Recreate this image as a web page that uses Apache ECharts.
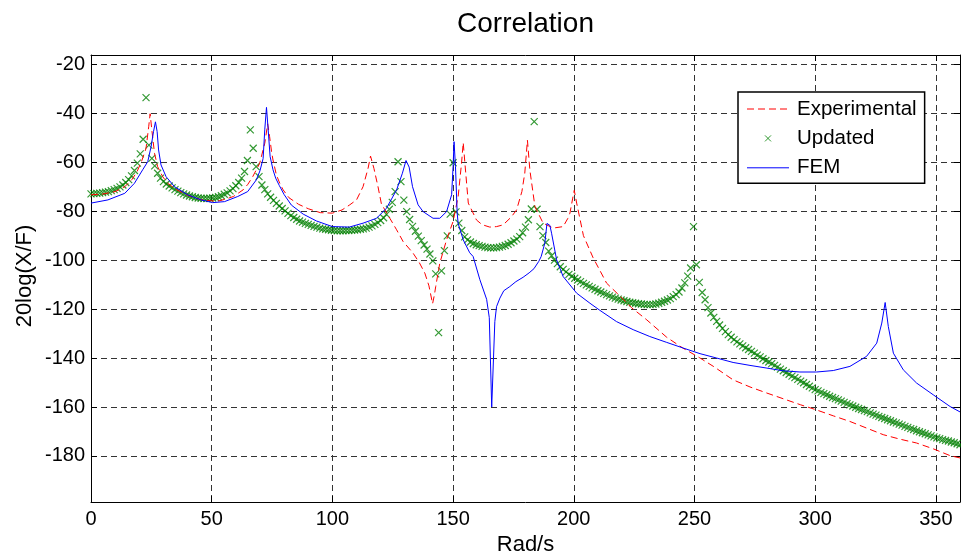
<!DOCTYPE html>
<html>
<head>
<meta charset="utf-8">
<title>Correlation</title>
<script src="https://cdn.jsdelivr.net/npm/echarts@6/dist/echarts.min.js"></script>
<style>
	html, body { margin: 0; padding: 0; background: #fff; }
	#chart { width: 961px; height: 559px; }
</style>
</head>
<body>
<div id="chart"></div>
<script>
// tick positions
const xTicks = [ 0, 50, 100, 150, 200, 250, 300, 350 ];
const yTicks = [ -180, -160, -140, -120, -100, -80, -60, -40, -20 ];

// Experimental (red dashed)
const expX = [ 0, 5, 10, 14, 17, 19, 21, 22.8, 23.9, 24.5, 25.2, 26.3, 27.6, 29.7, 31.8, 35, 40, 45, 50, 53,
	56, 59, 63, 65, 67, 69.9, 72, 73.2, 74, 74.8, 75.4, 76.8, 78.2, 79.6, 82, 86, 90, 95, 100, 104,
	107.2, 110, 112.7, 114.8, 115.8, 117.2, 118.9, 120.3, 123.8, 126.6, 129.3, 133.4, 136, 138.3, 140, 141.5, 142.3, 142.8, 144.5, 147.3,
	150, 152.1, 153.5, 154.2, 154.9, 156.3, 159.7, 162, 165.2, 168, 170.7, 174, 176.3, 178.5, 179.7, 180.8, 181.8, 183.9, 187.3, 191.5,
	195.6, 197.5, 198.4, 199.5, 200.2, 201.2, 204, 208, 213.6, 220, 224, 230, 238.5, 245, 252, 258, 266, 273, 280, 287,
	294, 300, 307.5, 314.4, 321.3, 328.2, 335, 342, 349, 356, 360 ];
const expDb = [ -73.3, -73.0, -72.0, -70.0, -67.0, -64.0, -59.5, -54.3, -45.5, -40.2, -46.8, -56.3, -61.8, -65.9, -68.6, -71.0, -73.5, -75.2, -75.8, -75.8,
	-75.0, -74.0, -71.3, -69.0, -65.9, -60.4, -52.2, -44.3, -49.6, -55.7, -59.1, -65.2, -68.6, -71.3, -74.5, -77.2, -79.0, -80.6, -80.8, -79.5,
	-77.4, -75.4, -70.0, -62.4, -57.5, -62.5, -70.0, -77.0, -82.9, -87.6, -92.4, -97.1, -101.0, -105.3, -110.5, -117.8, -114.0, -110.8, -101.2, -91.7,
	-84.2, -74.0, -60.4, -52.0, -60.4, -76.7, -83.6, -85.5, -86.5, -86.3, -85.6, -82.5, -79.5, -72.0, -64.5, -51.0, -63.1, -78.1, -84.9, -86.9,
	-86.3, -83.0, -80.8, -75.0, -71.5, -76.7, -90.0, -99.0, -109.4, -115.5, -119.5, -124.2, -131.5, -135.8, -139.8, -143.5, -148.9, -151.8, -154.3, -156.7,
	-159.1, -161.0, -163.6, -165.9, -168.6, -171.3, -173.1, -174.7, -177.1, -179.9, -180.8 ];

// Updated (green x markers), sampled every 1.2 rad/s from 0 to 360
const updatedStep = 1.2;
const updatedDb = [
	-72.9, -72.8, -72.7, -72.6, -72.4, -72.2, -72.0, -71.6, -71.2, -70.7,
	-70.1, -69.3, -68.3, -67.1, -65.6, -63.4, -60.4, -56.6, -50.6, -33.6,
	-53.0, -58.4, -61.5, -64.5, -66.5, -67.9, -68.9, -69.7, -70.5, -71.2,
	-71.8, -72.4, -72.9, -73.4, -73.8, -74.1, -74.4, -74.6, -74.7, -74.8,
	-74.8, -74.7, -74.6, -74.4, -74.1, -73.7, -73.1, -72.5, -71.7, -70.8,
	-69.6, -68.3, -66.5, -63.8, -59.3, -46.8, -54.3, -61.8, -65.9, -69.3,
	-71.2, -72.9, -74.3, -75.6, -76.8, -77.9, -78.9, -79.9, -80.9, -81.8,
	-82.6, -83.3, -84.0, -84.5, -85.0, -85.4, -85.8, -86.2, -86.5, -86.9,
	-87.2, -87.4, -87.6, -87.8, -87.9, -88.0, -88.0, -88.0, -87.9, -87.9,
	-87.8, -87.7, -87.6, -87.4, -87.2, -86.9, -86.5, -86.0, -85.4, -84.7,
	-83.8, -82.7, -81.3, -79.2, -76.4, -72.0, -59.8, -67.9, -75.5, -80.2,
	-83.4, -86.2, -88.2, -90.2, -92.0, -93.8, -95.5, -97.5, -100.3, -105.6,
	-129.6, -104.4, -96.1, -90.1, -81.2, -60.2, -80.3, -84.9, -87.9, -90.5,
	-91.7, -92.6, -93.2, -93.7, -94.1, -94.4, -94.7, -94.9, -95.0, -95.0,
	-94.9, -94.7, -94.4, -94.0, -93.5, -92.9, -92.2, -91.4, -90.4, -88.8,
	-86.5, -83.5, -79.1, -43.4, -79.2, -86.3, -90.0, -92.8, -96.3, -98.2,
	-100.0, -101.4, -102.7, -103.8, -104.8, -105.8, -106.6, -107.4, -108.1, -108.8,
	-109.5, -110.1, -110.7, -111.3, -111.9, -112.5, -113.0, -113.6, -114.1, -114.6,
	-115.1, -115.5, -115.9, -116.3, -116.6, -116.9, -117.2, -117.4, -117.6, -117.8,
	-117.9, -118.1, -118.2, -118.2, -118.1, -117.9, -117.6, -117.2, -116.8, -116.3,
	-115.7, -114.9, -114.1, -113.0, -111.4, -109.3, -106.5, -103.2, -86.3, -101.9,
	-109.1, -113.2, -116.2, -119.4, -121.6, -123.4, -125.0, -126.5, -127.9, -129.2,
	-130.4, -131.5, -132.5, -133.4, -134.2, -135.0, -135.8, -136.5, -137.3, -138.0,
	-138.8, -139.5, -140.3, -141.0, -141.6, -142.3, -143.0, -143.7, -144.5, -145.2,
	-145.9, -146.6, -147.4, -148.0, -148.7, -149.4, -150.1, -150.8, -151.5, -152.2,
	-152.9, -153.4, -154.0, -154.5, -155.0, -155.6, -156.1, -156.6, -157.1, -157.6,
	-158.1, -158.6, -159.1, -159.6, -160.1, -160.6, -161.0, -161.5, -161.9, -162.4,
	-162.9, -163.3, -163.8, -164.3, -164.7, -165.2, -165.6, -166.1, -166.5, -167.0,
	-167.4, -167.9, -168.3, -168.8, -169.2, -169.7, -170.1, -170.5, -170.9, -171.4,
	-171.8, -172.2, -172.6, -172.9, -173.3, -173.6, -173.9, -174.3, -174.6, -175.0,
	-175.4 ];

// FEM (blue solid)
const femX = [ 0, 7, 14, 18, 21.4, 23.5, 24.9, 25.9, 26.7, 27.4, 28, 29, 31.1, 34.6, 40, 45.6, 50.4, 55.3, 60.8, 64.9,
	68.5, 70, 71.3, 72, 72.7, 73.4, 74.2, 75.4, 76.5, 78, 80, 83, 87.9, 93.4, 100, 107, 112.7, 118.3, 122.4, 126.6,
	129, 130.5, 131.8, 133.2, 135.5, 137.6, 141.7, 144.5, 147.3, 149.4, 150, 150.4, 151, 151.7, 152.1, 154.2, 156.9, 158.3, 161.1, 163.9,
	165, 166, 167.3, 168, 169.4, 171, 173.5, 176, 179, 181.5, 183.5, 185.5, 186.5, 188, 188.9, 190.1, 190.8, 192.9, 195.6, 201.2,
	206.7, 210.8, 217.7, 224.6, 231.5, 238.5, 245.3, 252.3, 259.2, 266, 273, 280, 286.8, 293.7, 300.6, 307.5, 314.4, 321.3, 325.5, 327.6,
	329, 330.3, 332.4, 336.5, 342, 348.9, 355.9, 360 ];
const femDb = [ -76.7, -75.4, -72.7, -68.6, -63.1, -59.8, -53.6, -47.5, -43.5, -47.5, -55.0, -61.1, -65.9, -70.0, -73.3, -75.4, -76.5, -76.1, -74.0, -72.0,
	-67.2, -63.5, -58.5, -46.5, -37.6, -46.8, -57.7, -63.1, -66.5, -69.5, -73.2, -77.5, -81.2, -84.0, -86.3, -86.5, -84.9, -82.9, -78.8, -71.3,
	-64.5, -59.3, -62.0, -70.0, -77.4, -80.2, -82.9, -82.9, -80.2, -73.3, -61.8, -51.6, -61.8, -80.8, -85.0, -91.7, -97.0, -98.5, -108.0, -116.0,
	-123.5, -160.0, -125.1, -119.0, -115.5, -112.5, -110.8, -108.8, -107.0, -105.2, -103.5, -100.5, -98.5, -93.1, -85.0, -85.8, -89.0, -99.9, -106.7, -113.5,
	-117.6, -120.5, -125.1, -128.4, -131.2, -133.6, -135.9, -138.2, -140.0, -141.8, -143.0, -144.1, -145.2, -145.7, -145.7, -145.1, -143.4, -139.3, -133.9, -125.7,
	-117.3, -127.1, -138.0, -144.8, -150.2, -155.0, -159.8, -162.0 ];

const FONT = '"Liberation Sans", Arial, sans-serif';

const pairs = ( xs, ys ) => xs.map( ( x, i ) => [ x, ys[ i ] ] );
const updatedData = updatedDb.map( ( y, i ) => [ +( i * updatedStep ).toFixed( 1 ), y ] );

const chart = echarts.init( document.getElementById( 'chart' ), null, { renderer: 'canvas' } );

const tickStyle = { show: true, inside: true, length: 6, lineStyle: { color: '#000', width: 1 } };
const lineAxis = { show: true, onZero: false, lineStyle: { color: '#000', width: 1 } };
const gridLine = { show: true, lineStyle: { color: '#333', width: 1, type: [ 6, 4 ] } };
// hides the dot that line series put in the middle of their legend icon
const noDot = { color: 'rgba(0,0,0,0)', borderColor: 'rgba(0,0,0,0)', borderWidth: 0 };

chart.setOption( {
	animation: false,
	backgroundColor: '#fff',
	grid: { left: 91, right: 1, top: 55, bottom: 57, containLabel: false },
	xAxis: [
		{
			type: 'value', min: 0, max: 360, position: 'bottom',
			axisLine: lineAxis,
			axisTick: Object.assign( {}, tickStyle, { customValues: xTicks } ),
			axisLabel: { customValues: xTicks, color: '#000', fontSize: 20, fontFamily: FONT, margin: 7 },
			splitLine: gridLine
		},
		{
			type: 'value', min: 0, max: 360, position: 'top',
			axisLine: lineAxis,
			axisTick: Object.assign( {}, tickStyle, { customValues: xTicks } ),
			axisLabel: { show: false },
			splitLine: { show: false }
		}
	],
	yAxis: [
		{
			type: 'value', min: -198.8, max: -16.2, position: 'left',
			axisLine: lineAxis,
			axisTick: Object.assign( {}, tickStyle, { customValues: yTicks } ),
			axisLabel: { customValues: yTicks, color: '#000', fontSize: 20, fontFamily: FONT, margin: 6 },
			splitLine: gridLine
		},
		{
			type: 'value', min: -198.8, max: -16.2, position: 'right',
			axisLine: lineAxis,
			axisTick: Object.assign( {}, tickStyle, { customValues: yTicks } ),
			axisLabel: { show: false },
			splitLine: { show: false }
		}
	],
	legend: {
		orient: 'vertical',
		left: 738,
		top: 92,
		padding: [ 6.5, 8, 5, 8.5 ],
		itemGap: 8.4,
		itemWidth: 42,
		itemHeight: 6,
		backgroundColor: '#fff',
		borderColor: '#000',
		borderWidth: 1.5,
		borderRadius: 0,
		selectedMode: false,
		textStyle: { color: '#000', fontSize: 20.5, fontFamily: FONT, lineHeight: 20, padding: [ 0, 0, 0, 3 ] },
		data: [
			{ name: 'Experimental', itemStyle: noDot, lineStyle: { color: '#ff0000', width: 1, type: [ 7, 4 ] } },
			{ name: 'Updated', itemStyle: { color: '#007f00', borderColor: '#007f00', borderWidth: 1 } },
			{ name: 'FEM', itemStyle: noDot, lineStyle: { color: '#0000ff', width: 1, type: 'solid' } }
		]
	},
	graphic: [
		{ type: 'text', x: 525.5, y: 24.5, silent: true,
			style: { text: 'Correlation', fill: '#000', font: '28px ' + FONT, align: 'center', verticalAlign: 'middle' } },
		{ type: 'text', x: 525.5, y: 545, silent: true,
			style: { text: 'Rad/s', fill: '#000', font: '22px ' + FONT, align: 'center', verticalAlign: 'middle' } },
		{ type: 'text', x: 25, y: 276, rotation: Math.PI / 2, silent: true,
			style: { text: '20log(X/F)', fill: '#000', font: '22px ' + FONT, align: 'center', verticalAlign: 'middle' } }
	],
	series: [
		{
			name: 'Experimental', type: 'line', data: pairs( expX, expDb ),
			symbol: 'none', showSymbol: false, silent: true,
			itemStyle: { color: '#ff0000' },
			lineStyle: { color: '#ff0000', width: 1, type: [ 7, 4 ] }
		},
		{
			name: 'Updated', type: 'scatter', data: updatedData,
			symbol: 'path://M0,0L10,10M10,0L0,10', symbolSize: 7, silent: true,
			itemStyle: { color: '#007f00', borderColor: '#007f00', borderWidth: 1.2 }
		},
		{
			name: 'FEM', type: 'line', data: pairs( femX, femDb ),
			symbol: 'none', showSymbol: false, silent: true,
			itemStyle: { color: '#0000ff' },
			lineStyle: { color: '#0000ff', width: 1 }
		}
	]
} );
</script>
</body>
</html>
